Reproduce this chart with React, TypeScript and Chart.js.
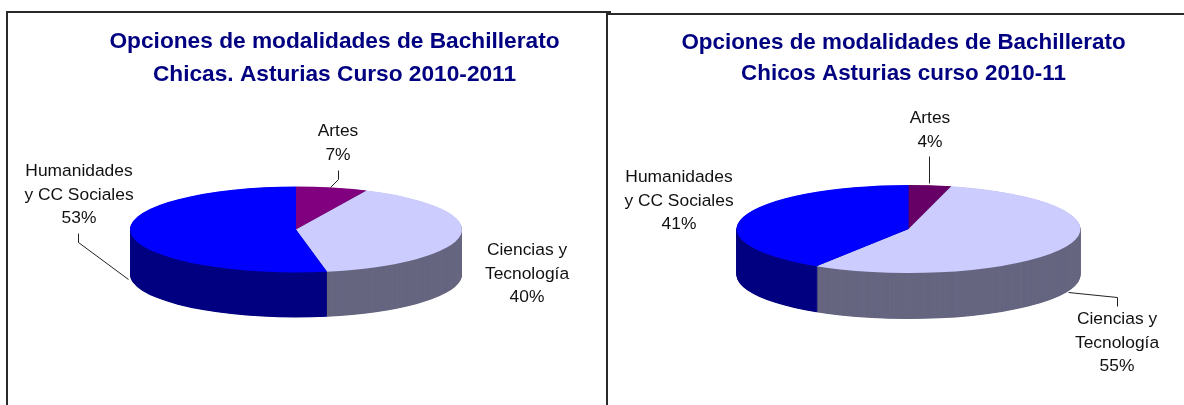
import React, { useEffect, useRef } from "react";
import { Chart, registerables } from "chart.js";

Chart.register(...registerables);

const categories = ["Artes", "Ciencias y Tecnología", "Humanidades y CC Sociales"];
const labelLines = [["Artes"], ["Ciencias y", "Tecnología"], ["Humanidades", "y CC Sociales"]];
const chicasValues = [7, 40, 53];
const chicosValues = [4, 55, 41];
const chicasTitle = ["Opciones de modalidades de Bachillerato", "Chicas. Asturias Curso 2010-2011"];
const chicosTitle = ["Opciones de modalidades de Bachillerato", "Chicos Asturias curso 2010-11"];
const chicasTop = ["#800080", "#CCCCFF", "#0000FF"];
const chicosTop = ["#660066", "#CCCCFF", "#0000FF"];
const sideColors = ["#400040", "#666680", "#000080"];

const FONT = '"Liberation Sans", Arial, sans-serif';

type Spec = {
  values: number[];
  title: string[];
  colors: string[];
  canvasLeft: number;
  canvasWidth: number;
  centerX: number;
  titleCenter: number;
  titleSize: number;
  titleLine: number;
  titleTop: number;
  padBottom: number;
  radius: number;
  tilt: number;
  depth: number;
  labelPos: { x: number; y: number }[];
  lineSpacing: number;
  leaders: number[][][];
};

const specs: Spec[] = [
  {
    values: chicasValues,
    title: chicasTitle,
    colors: chicasTop,
    canvasLeft: 0,
    canvasWidth: 606,
    centerX: 296,
    titleCenter: 334.5,
    titleSize: 22.7,
    titleLine: 33,
    titleTop: 25,
    padBottom: 37,
    radius: 166,
    tilt: 0.259,
    depth: 45,
    labelPos: [
      { x: 338, y: 131 },
      { x: 527, y: 250 },
      { x: 79, y: 171 },
    ],
    lineSpacing: 23.8,
    leaders: [
      [[330, 187], [338, 179], [338, 170]],
      [[128, 279], [78, 242], [78, 233]],
    ],
  },
  {
    values: chicosValues,
    title: chicosTitle,
    colors: chicosTop,
    canvasLeft: 608,
    canvasWidth: 576,
    centerX: 908.5,
    titleCenter: 903.5,
    titleSize: 22.4,
    titleLine: 31,
    titleTop: 27,
    padBottom: 36,
    radius: 172,
    tilt: 0.256,
    depth: 46,
    labelPos: [
      { x: 930, y: 118 },
      { x: 1117, y: 319 },
      { x: 679, y: 177 },
    ],
    lineSpacing: 23.8,
    leaders: [
      [[929, 156], [929, 183]],
      [[1068, 292], [1117, 297], [1117, 306]],
    ],
  },
];

function makePlugin(spec: Spec) {
  const squash = (chart: any, el: any) => {
    const ctx = chart.ctx;
    ctx.translate(el.x, el.y);
    ctx.scale(1, spec.tilt);
    ctx.translate(-el.x, -el.y);
  };
  return {
    id: "pie3d",
    afterLayout(chart: any) {
      const t = chart.titleBlock;
      const dx = spec.titleCenter - spec.canvasLeft - (t.left + t.right) / 2;
      t.left += dx;
      t.right += dx;
    },
    beforeDatasetDraw(chart: any, args: any) {
      const ctx = chart.ctx;
      const arcs = args.meta.data;
      ctx.save();
      squash(chart, arcs[0]);
      // Side wall: the library's own arcs redrawn in the wall colour, deepest first.
      for (let d = spec.depth; d > 0; d -= 0.5) {
        ctx.save();
        ctx.translate(0, d / spec.tilt);
        arcs.forEach((arc: any, i: number) => {
          const saved = arc.options;
          const o = Object.create(saved);
          o.backgroundColor = sideColors[i];
          arc.options = o;
          arc.draw(ctx);
          arc.options = saved;
        });
        ctx.restore();
      }
    },
    afterDatasetDraw(chart: any) {
      chart.ctx.restore();
    },
    afterDraw(chart: any) {
      const ctx = chart.ctx;
      ctx.save();
      ctx.translate(-spec.canvasLeft, 0);
      ctx.strokeStyle = "#222222";
      ctx.lineWidth = 1;
      spec.leaders.forEach((pts) => {
        ctx.beginPath();
        pts.forEach(([x, y], i) => (i ? ctx.lineTo(x + 0.5, y + 0.5) : ctx.moveTo(x + 0.5, y + 0.5)));
        ctx.stroke();
      });
      ctx.fillStyle = "#111111";
      ctx.font = `17.4px ${FONT}`;
      ctx.textAlign = "center";
      ctx.textBaseline = "middle";
      categories.forEach((_, i) => {
        const lines = [...labelLines[i], `${spec.values[i]}%`];
        const p = spec.labelPos[i];
        lines.forEach((line, j) => ctx.fillText(line, p.x, p.y + j * spec.lineSpacing));
      });
      ctx.restore();
    },
  };
}

function Pie({ spec }: { spec: Spec }) {
  const ref = useRef<HTMLCanvasElement>(null);
  useEffect(() => {
    const localCx = spec.centerX - spec.canvasLeft;
    const slack = spec.canvasWidth - 2 * localCx;
    const chart = new Chart(ref.current as HTMLCanvasElement, {
      type: "pie",
      data: {
        labels: categories,
        datasets: [
          {
            data: spec.values,
            backgroundColor: spec.colors,
            borderWidth: 0,
            clip: false,
          } as any,
        ],
      },
      options: {
        responsive: false,
        animation: false,
        devicePixelRatio: 1,
        radius: spec.radius,
        layout: {
          padding: {
            left: slack < 0 ? -slack : 0,
            right: slack > 0 ? slack : 0,
            top: 0,
            bottom: spec.padBottom,
          },
        },
        plugins: {
          legend: { display: false },
          tooltip: { enabled: false },
          title: {
            display: true,
            text: spec.title,
            color: "#000080",
            padding: { top: spec.titleTop, bottom: 0 },
            font: {
              family: FONT,
              size: spec.titleSize,
              weight: "bold",
              lineHeight: spec.titleLine / spec.titleSize,
            },
          },
        },
      } as any,
      plugins: [makePlugin(spec) as any],
    });
    return () => chart.destroy();
  }, [spec]);
  return (
    <canvas
      ref={ref}
      width={spec.canvasWidth}
      height={405}
      style={{ position: "absolute", left: spec.canvasLeft, top: 0, display: "block" }}
    />
  );
}

const rule = (left: number, top: number, width: number, height: number) => (
  <div style={{ position: "absolute", left, top, width, height, background: "#2a2a2a" }} />
);

export default function App() {
  return (
    <div
      style={{
        position: "fixed",
        left: 0,
        top: 0,
        width: 1184,
        height: 405,
        background: "#ffffff",
        overflow: "hidden",
      }}
    >
      {rule(6, 11, 605, 2)}
      {rule(6, 11, 2, 394)}
      {rule(606, 12, 2, 393)}
      {rule(607, 13, 577, 2)}
      {specs.map((s) => (
        <Pie key={s.canvasLeft} spec={s} />
      ))}
    </div>
  );
}
